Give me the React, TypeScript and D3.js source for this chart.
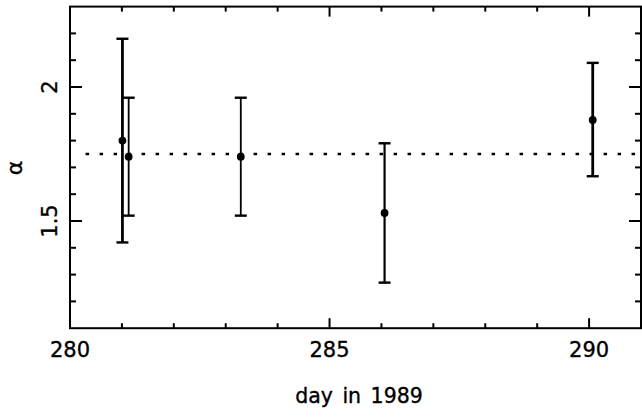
import React from "react";
import * as d3 from "d3";

// Observations: day of 1989, spectral index alpha, and its error range
const days = [281.01, 281.13, 283.29, 286.06, 290.07];
const alphaValues = [1.8, 1.74, 1.74, 1.53, 1.877];
const alphaLow = [1.42, 1.52, 1.52, 1.27, 1.667];
const alphaHigh = [2.18, 1.96, 1.96, 1.79, 2.09];
const barWeights = [2.8, 1.8, 1.8, 2.2, 2.8];
const meanAlpha = 1.75;

const xTickLabels = [280, 285, 290];
const yTickLabels = ["1.5", "2"];

const W = 642;
const H = 417;
const FONT = "'DejaVu Sans', sans-serif";

export default function App() {
  const x = d3.scaleLinear().domain([280, 291]).range([70, 641]);
  const y = d3.scaleLinear().domain([1.1, 2.3]).range([328.2, 6.6]);
  const [x0, x1] = x.range();
  const [yBottom, yTop] = y.range();

  const xMinor = d3.range(281, 291, 1);
  const yMinor = d3.range(12, 23, 1).map((v) => v / 10);
  const isMajorX = (d: number) => d % 5 === 0;
  const isMajorY = (v: number) => Math.abs(v * 2 - Math.round(v * 2)) < 1e-6;

  const line = d3.line<[number, number]>().x((d) => x(d[0])).y((d) => y(d[1]));

  const textStyle = { fill: "#000", stroke: "#000", strokeWidth: 0.35 };

  return (
    <svg
      width={W}
      height={H}
      style={{ position: "absolute", left: 0, top: 0, background: "#fff" }}
      fontFamily={FONT}
    >
      {/* mean level */}
      <path
        d={line([[280.3, meanAlpha], [291, meanAlpha]]) || ""}
        stroke="#000"
        strokeWidth={2.4}
        strokeDasharray="3.5 10.5"
        fill="none"
      />

      {/* error bars and points */}
      {days.map((d, i) => {
        const cx = x(d);
        const cap = 6;
        return (
          <g key={i} stroke="#000" strokeWidth={barWeights[i]}>
            <line x1={cx} x2={cx} y1={y(alphaLow[i])} y2={y(alphaHigh[i])} />
            <line x1={cx - cap} x2={cx + cap} y1={y(alphaHigh[i])} y2={y(alphaHigh[i])} strokeWidth={2.4} />
            <line x1={cx - cap} x2={cx + cap} y1={y(alphaLow[i])} y2={y(alphaLow[i])} strokeWidth={2.4} />
            <circle cx={cx} cy={y(alphaValues[i])} r={3.9} fill="#000" stroke="none" />
          </g>
        );
      })}

      {/* frame */}
      <rect x={x0} y={yTop} width={x1 - x0} height={yBottom - yTop} fill="none" stroke="#000" strokeWidth={2} />

      {/* x ticks, bottom and top */}
      {xMinor.map((d) => {
        const len = isMajorX(d) ? 10 : 5;
        return (
          <g key={"xt" + d} stroke="#000" strokeWidth={2}>
            <line x1={x(d)} x2={x(d)} y1={yBottom} y2={yBottom - len} />
            <line x1={x(d)} x2={x(d)} y1={yTop} y2={yTop + len} />
          </g>
        );
      })}

      {/* y ticks, left and right */}
      {yMinor.map((v) => {
        const len = isMajorY(v) ? 12 : 6;
        return (
          <g key={"yt" + v} stroke="#000" strokeWidth={2}>
            <line x1={x0} x2={x0 + len} y1={y(v)} y2={y(v)} />
            <line x1={x1} x2={x1 - len} y1={y(v)} y2={y(v)} />
          </g>
        );
      })}

      {/* x tick labels */}
      {xTickLabels.map((d) => (
        <text key={"xl" + d} x={x(d)} y={357} textAnchor="middle" fontSize={21} style={textStyle}>
          {d}
        </text>
      ))}

      {/* y tick labels, rotated */}
      {yTickLabels.map((s) => (
        <text
          key={"yl" + s}
          transform={`translate(57,${y(+s)}) rotate(-90)`}
          textAnchor="middle"
          fontSize={21}
          style={textStyle}
        >
          {s}
        </text>
      ))}

      {/* axis titles */}
      <text x={359} y={402.5} textAnchor="middle" fontSize={20.5} wordSpacing={3} style={textStyle}>
        day in 1989
      </text>
      <text transform="translate(22,168) rotate(-90)" textAnchor="middle" fontSize={22} style={textStyle}>
        α
      </text>
    </svg>
  );
}
